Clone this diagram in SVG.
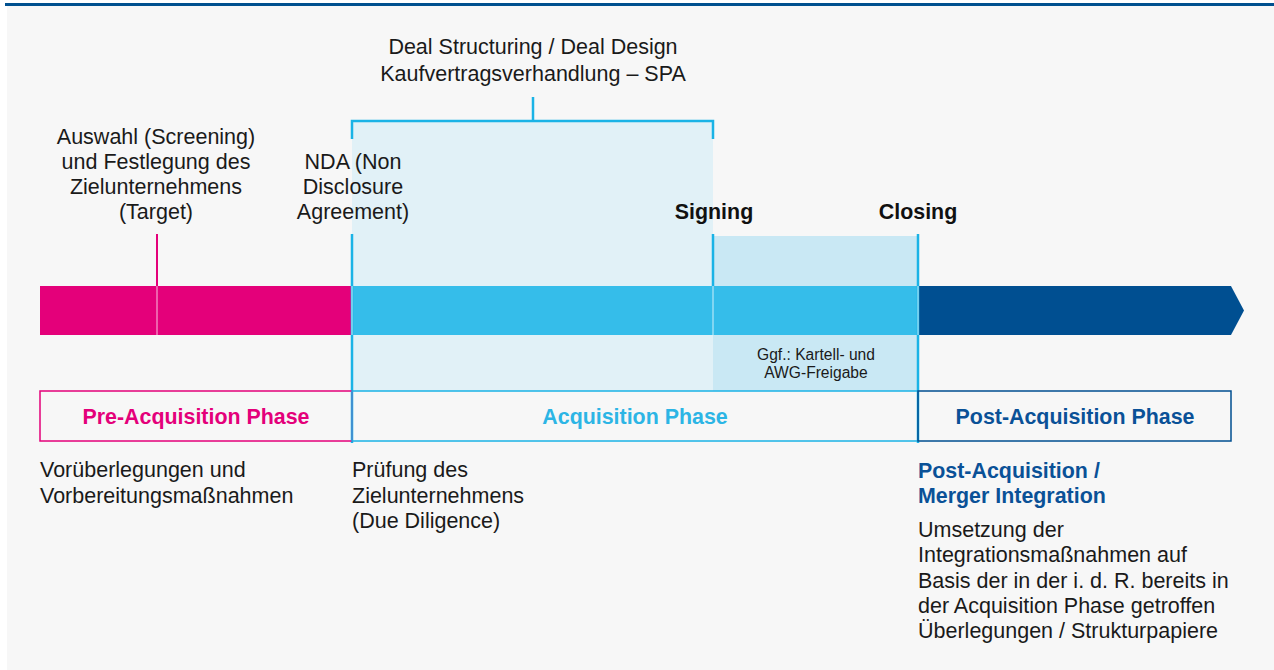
<svg xmlns="http://www.w3.org/2000/svg" width="1274" height="670" viewBox="0 0 1274 670">
<style>
  text { font-family: "Liberation Sans", Arial, sans-serif; }
  .t { font-size: 21.5px; fill: #1a1a1a; }
  .b { font-size: 21.4px; font-weight: bold; }
  .s { font-size: 15.6px; fill: #1a1a1a; }
  .mid { text-anchor: middle; }
  .cyan { stroke: #1ab3e6; stroke-width: 2.5; fill: none; }
  .sep { stroke: #ffffff; stroke-opacity: 0.5; stroke-width: 1.5; }
</style>
<rect x="0" y="0" width="1274" height="670" fill="#ffffff"/>
<rect x="7" y="6" width="1267" height="664" fill="#f7f7f7"/>
<rect x="5" y="3" width="1269" height="3" fill="#00508f"/>

<g id="shading">
  <rect x="352" y="121" width="361" height="270" fill="#e1f1f7"/>
  <rect x="713" y="236" width="205" height="155" fill="#c9e8f4"/>
</g>

<g id="timeline">
  <rect x="40" y="286" width="312" height="49" fill="#e4007a"/>
  <rect x="352" y="286" width="566" height="49" fill="#35bdea"/>
  <path d="M918 286 H1231 L1244 310.5 L1231 335 H918 Z" fill="#004f91"/>
</g>

<g id="connectors">
  <path class="cyan" d="M352 139 V121 H713 V139"/>
  <line class="cyan" x1="533" y1="97" x2="533" y2="121"/>
  <line x1="157" y1="234" x2="157" y2="286" stroke="#e4007a" stroke-width="2"/>
  <line class="cyan" x1="352" y1="234" x2="352" y2="443"/>
  <line class="cyan" x1="713" y1="234" x2="713" y2="286"/>
  <line class="cyan" x1="918" y1="234" x2="918" y2="443"/>
  <line class="sep" x1="157" y1="286" x2="157" y2="335"/>
  <line class="sep" x1="352" y1="286" x2="352" y2="335"/>
  <line class="sep" x1="713" y1="286" x2="713" y2="335"/>
  <line class="sep" x1="918" y1="286" x2="918" y2="335"/>
</g>

<g id="deal-structuring">
  <text class="t mid" x="533" y="54">Deal Structuring / Deal Design</text>
  <text class="t mid" x="533" y="81">Kaufvertragsverhandlung – SPA</text>
</g>

<g id="screening">
  <text class="t mid" x="156" y="144">Auswahl (Screening)</text>
  <text class="t mid" x="156" y="169">und Festlegung des</text>
  <text class="t mid" x="156" y="194">Zielunternehmens</text>
  <text class="t mid" x="156" y="219">(Target)</text>
</g>

<g id="nda">
  <text class="t mid" x="353" y="169">NDA (Non</text>
  <text class="t mid" x="353" y="194">Disclosure</text>
  <text class="t mid" x="353" y="219">Agreement)</text>
</g>

<g id="signing">
  <text class="b mid" x="714" y="219" fill="#111111">Signing</text>
</g>

<g id="closing">
  <text class="b mid" x="918" y="219" fill="#111111">Closing</text>
</g>

<g id="kartell">
  <text class="s mid" x="816" y="360">Ggf.: Kartell- und</text>
  <text class="s mid" x="816" y="378">AWG-Freigabe</text>
</g>

<g id="pre-acquisition">
  <rect x="40" y="391" width="312" height="50" fill="none" stroke="#e4007a" stroke-width="1.5"/>
  <text class="b mid" x="196" y="424" fill="#e4007a">Pre-Acquisition Phase</text>
  <text class="t" x="40" y="477">Vorüberlegungen und</text>
  <text class="t" x="40" y="503">Vorbereitungsmaßnahmen</text>
</g>

<g id="acquisition">
  <rect x="352" y="391" width="566" height="50" fill="none" stroke="#1ab3e6" stroke-width="1.5"/>
  <text class="b mid" x="635" y="424" fill="#2cb5e5">Acquisition Phase</text>
  <text class="t" x="352" y="477">Prüfung des</text>
  <text class="t" x="352" y="503">Zielunternehmens</text>
  <text class="t" x="352" y="528">(Due Diligence)</text>
</g>

<g id="post-acquisition">
  <rect x="918" y="391" width="313" height="50" fill="none" stroke="#004f91" stroke-width="1.5"/>
  <text class="b mid" x="1075" y="424" fill="#0a5197">Post-Acquisition Phase</text>
  <text class="b" x="918" y="478" fill="#0a5197">Post-Acquisition /</text>
  <text class="b" x="918" y="503" fill="#0a5197">Merger Integration</text>
  <text class="t" x="918" y="537">Umsetzung der</text>
  <text class="t" x="918" y="562">Integrationsmaßnahmen auf</text>
  <text class="t" x="918" y="588">Basis der in der i. d. R. bereits in</text>
  <text class="t" x="918" y="613">der Acquisition Phase getroffen</text>
  <text class="t" x="918" y="638">Überlegungen / Strukturpapiere</text>
</g>
</svg>
